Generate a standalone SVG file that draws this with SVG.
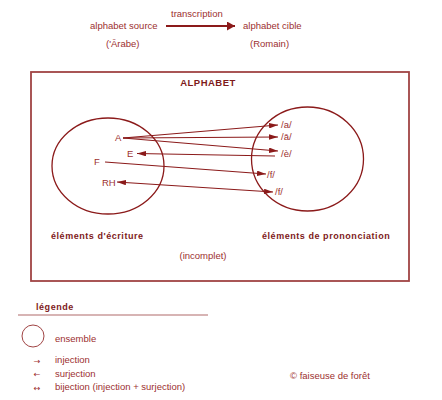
<svg xmlns="http://www.w3.org/2000/svg" width="442" height="400" viewBox="0 0 442 400">
<style>
  text { font-family: "Liberation Sans", Arial, sans-serif; font-size: 9.5px; fill: #9c2f2f; }
  .b { font-weight: bold; fill: #7e1a1a; letter-spacing: 0.55px; font-size: 9px; }
  .sym { font-family: "DejaVu Sans", sans-serif; font-size: 8px; fill: #9c2f2f; }
  .set { fill: none; stroke: #8b1a1a; stroke-width: 1.3; }
  .ln { stroke: #8b1a1a; stroke-width: 1.1; fill: none; }
</style>
<defs>
  <marker id="ah" viewBox="0 0 10 6" refX="10" refY="3" markerWidth="9" markerHeight="5.5" markerUnits="userSpaceOnUse" orient="auto">
    <path d="M0,0 L10,3 L0,6 z" fill="#8b1a1a"/>
  </marker>
  <marker id="ahs" viewBox="0 0 10 6" refX="0" refY="3" markerWidth="9" markerHeight="5.5" markerUnits="userSpaceOnUse" orient="auto">
    <path d="M10,0 L0,3 L10,6 z" fill="#8b1a1a"/>
  </marker>
  <marker id="big" viewBox="0 0 8 9" refX="8" refY="4.5" markerWidth="8" markerHeight="9" markerUnits="userSpaceOnUse" orient="auto">
    <path d="M0,0 L8,4.5 L0,9 z" fill="#8b1a1a"/>
  </marker>
</defs>
<rect width="442" height="400" fill="#ffffff"/>

<g id="header">
  <text x="171" y="17">transcription</text>
  <text x="90" y="29">alphabet source</text>
  <text x="106" y="47">('Ārabe)</text>
  <text x="243" y="29">alphabet cible</text>
  <text x="250" y="47">(Romain)</text>
</g>

<g id="frame">
  <rect x="31" y="72" width="378" height="209" fill="none" stroke="#a04444" stroke-width="1.8"/>
  <text x="208" y="86" text-anchor="middle" class="b" style="font-size:9.5px;letter-spacing:0.5px">ALPHABET</text>
  <text x="203" y="259" text-anchor="middle">(incomplet)</text>
</g>

<g id="ecriture">
  <ellipse class="set" cx="108" cy="166" rx="56" ry="48"/>
  <text x="51" y="239" class="b">éléments d'écriture</text>
  <text x="115" y="141">A</text>
  <text x="127" y="157">E</text>
  <text x="94" y="165">F</text>
  <text x="102" y="186">RH</text>
</g>

<g id="prononciation">
  <ellipse class="set" cx="307.5" cy="159" rx="56" ry="52"/>
  <text x="262" y="239" class="b">éléments de prononciation</text>
  <text x="281" y="128">/a/</text>
  <text x="281" y="140">/ā/</text>
  <text x="281" y="157">/è/</text>
  <text x="267" y="178">/f/</text>
  <text x="275" y="195">/f/</text>
</g>

<g id="connectors">
  <line x1="166" y1="26" x2="235" y2="26" stroke="#8b1a1a" stroke-width="2" marker-end="url(#big)"/>
  <line class="ln" x1="123" y1="138" x2="278" y2="125" marker-end="url(#ah)"/>
  <line class="ln" x1="123" y1="138" x2="278" y2="137" marker-end="url(#ah)"/>
  <line class="ln" x1="123" y1="138" x2="278" y2="151" marker-end="url(#ah)"/>
  <line class="ln" x1="275" y1="156" x2="137" y2="153.5" marker-end="url(#ah)"/>
  <line class="ln" x1="105" y1="162" x2="266" y2="174" marker-end="url(#ah)"/>
  <line class="ln" x1="117" y1="182" x2="273" y2="192" marker-start="url(#ahs)" marker-end="url(#ah)"/>
</g>

<g id="legende">
  <text x="36" y="310" class="b">légende</text>
  <line x1="18" y1="315" x2="208" y2="315" stroke="#b06a6a" stroke-width="1.2"/>
  <circle cx="33" cy="336" r="11" fill="none" stroke="#a04444" stroke-width="1"/>
  <text x="55" y="342">ensemble</text>
  <text x="37" y="364" text-anchor="middle" class="sym">→</text>
  <text x="55" y="363">injection</text>
  <text x="37" y="377" text-anchor="middle" class="sym">←</text>
  <text x="55" y="377">surjection</text>
  <text x="37" y="391" text-anchor="middle" class="sym">↔</text>
  <text x="55" y="390">bijection (injection + surjection)</text>
</g>

<g id="credit">
  <text x="290" y="379">© faiseuse de forêt</text>
</g>
</svg>
